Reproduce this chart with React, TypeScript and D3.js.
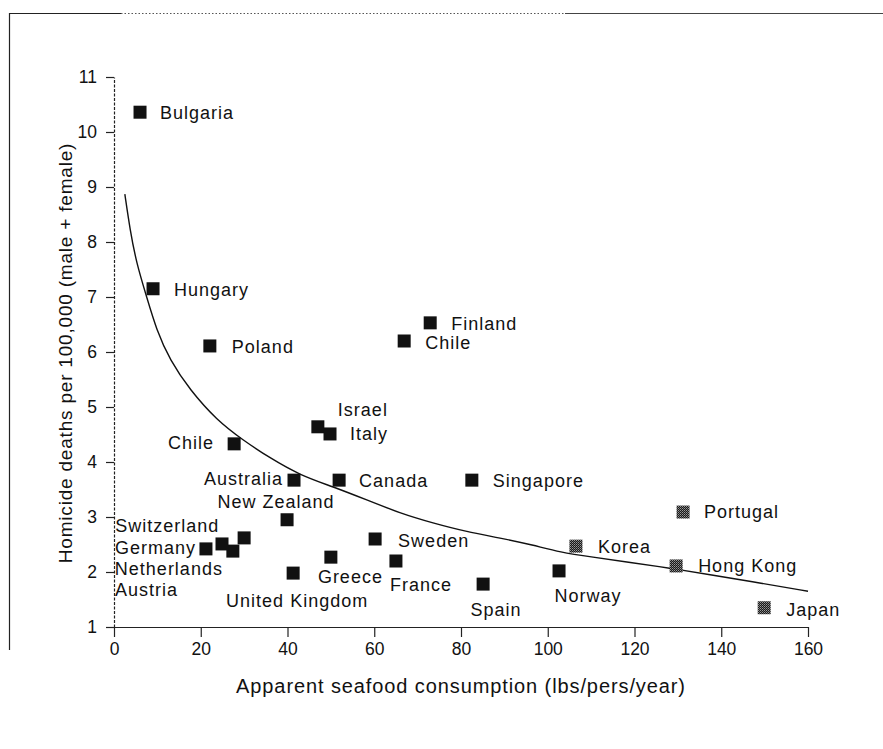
import React, { useRef, useEffect } from "react"
import * as d3 from "d3"

// scatter data: apparent seafood consumption vs homicide deaths
const countries = ["Bulgaria", "Hungary", "Poland", "Chile", "Israel", "Italy", "Australia", "Canada", "Singapore", "Finland", "Chile", "New Zealand", "Switzerland", "Germany", "Netherlands", "Austria", "Greece", "United Kingdom", "Sweden", "France", "Spain", "Norway", "Korea", "Portugal", "Hong Kong", "Japan"]
const seafood = [6.0, 9.0, 22.1, 27.7, 47.0, 49.8, 41.5, 51.9, 82.5, 72.9, 66.9, 39.9, 30.0, 21.2, 27.4, 24.9, 50.0, 41.3, 60.2, 65.0, 85.1, 102.6, 106.5, 131.2, 129.6, 149.9]
const homicide = [10.36, 7.15, 6.11, 4.33, 4.64, 4.51, 3.67, 3.67, 3.67, 6.53, 6.2, 2.95, 2.62, 2.42, 2.38, 2.51, 2.27, 1.98, 2.6, 2.2, 1.78, 2.02, 2.47, 3.09, 2.11, 1.35]
const stippled = ["Korea", "Portugal", "Hong Kong", "Japan"]

// fitted curve
const fitX = [2.5, 3.7, 5.2, 7.5, 9.8, 12.9, 17.5, 23.7, 29.7, 36.0, 42.9, 50.5, 58.3, 65.9, 73.5, 81.4, 89.0, 96.6, 102.8, 110.4, 118.3, 128.2, 137.4, 148.9, 160.0]
const fitY = [8.87, 8.22, 7.61, 7.01, 6.40, 5.85, 5.31, 4.76, 4.40, 4.07, 3.76, 3.55, 3.31, 3.07, 2.89, 2.73, 2.62, 2.49, 2.36, 2.27, 2.18, 2.07, 1.95, 1.80, 1.65]

const xTicks = [0, 20, 40, 60, 80, 100, 120, 140, 160]
const yTicks = [1, 2, 3, 4, 5, 6, 7, 8, 9, 10, 11]

// label placement relative to each marker (px)
const labelPos: [number, number, string][] = [
    [20, 0, "start"], [21, 1, "start"], [22, 1, "start"], [-20, -1, "end"],
    [20, -17, "start"], [20, 0, "start"], [-11, -2, "end"], [20, 0, "start"],
    [21, 0, "start"], [21, 1, "start"], [21, 1, "start"], [-11, -18, "middle"],
    [-129, -12, "start"], [-91, -1, "start"], [-118, 17, "start"], [-107, 46, "start"],
    [-13, 19, "start"], [4, 27, "middle"], [23, 1, "start"], [-6, 23, "start"],
    [13, 25, "middle"], [29, 25, "middle"], [22, 0, "start"], [21, -1, "start"],
    [22, 0, "start"], [22, 2, "start"],
]

const font = "'Liberation Sans', Arial, sans-serif"

export default function App() {
    const svgRef = useRef<SVGSVGElement>(null)

    useEffect(() => {
        const width = 883
        const svg = d3.select(svgRef.current)
        svg.selectAll("*").remove()

        const x = d3.scaleLinear().domain([0, 160]).range([114, 808])
        const y = d3.scaleLinear().domain([1, 11]).range([627, 77])

        // stipple pattern for the grey markers
        const pat = svg.append("defs").append("pattern")
            .attr("id", "stipple")
            .attr("width", 2).attr("height", 2)
            .attr("patternUnits", "userSpaceOnUse")
        pat.append("rect").attr("width", 2).attr("height", 2).attr("fill", "#1a1a1a")
        pat.append("rect").attr("width", 1).attr("height", 1).attr("fill", "#9a9a9a")
        pat.append("rect").attr("x", 1).attr("y", 1).attr("width", 1).attr("height", 1).attr("fill", "#6a6a6a")

        // page frame (scanned edge: solid, dotted, solid)
        const frame = svg.append("g").attr("stroke", "#222").attr("stroke-width", 1.2)
        frame.append("line").attr("x1", 9).attr("x2", 121).attr("y1", 13.5).attr("y2", 13.5)
        frame.append("line").attr("x1", 121).attr("x2", 565).attr("y1", 13.5).attr("y2", 13.5)
            .attr("stroke-dasharray", "1.5,2").attr("stroke", "#555")
        frame.append("line").attr("x1", 565).attr("x2", width).attr("y1", 13.5).attr("y2", 13.5)
            .attr("stroke", "#444")
        frame.append("line").attr("x1", 9.5).attr("x2", 9.5).attr("y1", 13).attr("y2", 650)

        // axes
        const xAxis = svg.append("g")
            .attr("transform", `translate(0, ${y(1)})`)
            .call(d3.axisBottom(x).tickValues(xTicks).tickSize(10).tickSizeOuter(0).tickPadding(6))
        const yAxis = svg.append("g")
            .attr("transform", `translate(${x(0)}, 0)`)
            .call(d3.axisLeft(y).tickValues(yTicks).tickSize(8).tickSizeOuter(0).tickPadding(9))

        for (const g of [xAxis, yAxis]) {
            g.selectAll("text")
                .attr("font-family", font)
                .attr("font-size", 17.5)
                .attr("fill", "#111")
            g.selectAll("line").attr("stroke", "#222").attr("stroke-width", 1.2)
            g.select(".domain").attr("stroke", "#222").attr("stroke-width", 1.2)
        }
        yAxis.select(".domain").attr("stroke-dasharray", "3,1.5")

        // titles
        svg.append("text")
            .attr("x", (x(0) + x(160)) / 2).attr("y", 693)
            .attr("text-anchor", "middle")
            .attr("font-family", font).attr("font-size", 20).attr("letter-spacing", 0.9)
            .attr("fill", "#111")
            .text("Apparent seafood consumption (lbs/pers/year)")
        svg.append("text")
            .attr("transform", `translate(72, ${(y(1) + y(11)) / 2 + 1}) rotate(-90)`)
            .attr("text-anchor", "middle")
            .attr("font-family", font).attr("font-size", 19).attr("letter-spacing", 0.8)
            .attr("fill", "#111")
            .text("Homicide deaths per 100,000 (male + female)")

        // fitted curve
        const line = d3.line<number>()
            .x((d, i) => x(fitX[i]))
            .y(d => y(d))
            .curve(d3.curveBasis)
        svg.append("path")
            .attr("d", line(fitY))
            .attr("fill", "none")
            .attr("stroke", "#111")
            .attr("stroke-width", 1.4)

        // markers
        const s = 13
        svg.selectAll(".mark")
            .data(countries)
            .join("rect")
            .attr("class", "mark")
            .attr("x", (d, i) => x(seafood[i]) - s / 2)
            .attr("y", (d, i) => y(homicide[i]) - s / 2)
            .attr("width", s).attr("height", s)
            .attr("fill", d => stippled.includes(d) ? "url(#stipple)" : "#111")

        // labels
        svg.selectAll(".lab")
            .data(countries)
            .join("text")
            .attr("class", "lab")
            .attr("x", (d, i) => x(seafood[i]) + labelPos[i][0])
            .attr("y", (d, i) => y(homicide[i]) + labelPos[i][1] + 6.5)
            .attr("text-anchor", (d, i) => labelPos[i][2])
            .attr("font-family", font).attr("font-size", 18).attr("letter-spacing", 1)
            .attr("fill", "#111")
            .text(d => d)
    }, [])

    return (
        <svg ref={svgRef} width={883} height={749}
            style={{ position: "absolute", left: 0, top: 0, background: "#fff" }} />
    )
}
